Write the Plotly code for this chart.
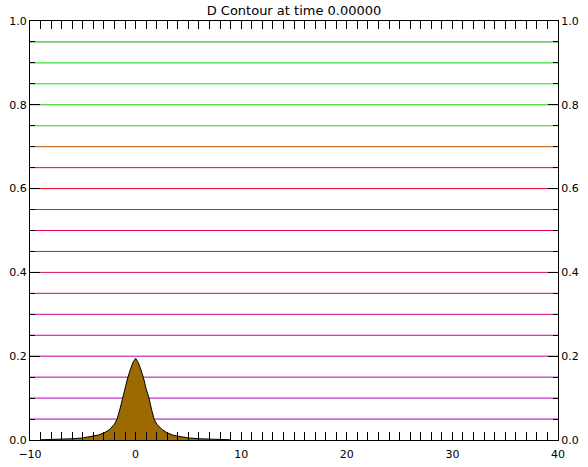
import plotly.graph_objects as go

# contour levels (horizontal lines) and their colours
levels = [0.05, 0.10, 0.15, 0.20, 0.25, 0.30, 0.35, 0.40, 0.45, 0.50,
          0.55, 0.60, 0.65, 0.70, 0.75, 0.80, 0.85, 0.90, 0.95]
level_colors = ["#aa00bb", "#bb00bb", "#bb00aa", "#bb0099", "#cc0099",
                "#cc0088", "#dd0077", "#dd1166", "#ee0055", "#ee0044",
                "#dd1133", "#ee0022", "#dd1111", "#bb5500", "#55bb22",
                "#22cc00", "#22dd22", "#00dd00", "#1a9a1a"]

# filled profile at time 0
prof_x = [-9.0, -8.0, -7.0, -6.0, -5.0, -4.0, -3.5, -3.0, -2.5, -2.0, -1.75,
          -1.5, -1.25, -1.0, -0.75, -0.5, -0.25, 0.0, 0.25, 0.5, 0.75, 1.0,
          1.25, 1.5, 1.75, 2.0, 2.5, 3.0, 3.5, 4.0, 5.0, 6.0, 7.0, 8.0, 9.0]
prof_y = [0.0005, 0.001, 0.0015, 0.003, 0.005, 0.009, 0.012, 0.017, 0.024,
          0.038, 0.050, 0.072, 0.100, 0.122, 0.148, 0.168, 0.185, 0.195,
          0.185, 0.168, 0.148, 0.122, 0.102, 0.074, 0.050, 0.038, 0.025,
          0.017, 0.012, 0.009, 0.005, 0.003, 0.002, 0.001, 0.0005]

x_range = [-10, 40]
x_ticks = [-10, 0, 10, 20, 30, 40]
y_ticks = [0.0, 0.2, 0.4, 0.6, 0.8, 1.0]
title_text = "D Contour at time 0.00000"

fig = go.Figure()
for lv, col in zip(levels, level_colors):
    fig.add_trace(go.Scatter(x=x_range, y=[lv, lv], mode="lines",
                             line=dict(color=col, width=1),
                             showlegend=False, hoverinfo="skip"))

fig.add_trace(go.Scatter(x=prof_x, y=prof_y, mode="lines", fill="tozeroy",
                         fillcolor="#9c6a00", line=dict(color="black", width=1),
                         showlegend=False))

# invisible trace on right axis
fig.add_trace(go.Scatter(x=[x_range[0]], y=[0], yaxis="y2", mode="markers",
                         marker=dict(opacity=0), showlegend=False,
                         hoverinfo="skip"))

font = dict(family="DejaVu Sans", size=11, color="black")

fig.update_layout(
    width=588, height=467,
    margin=dict(l=30, r=30, t=20.5, b=26.5),
    paper_bgcolor="white", plot_bgcolor="white",
    title=dict(text=title_text, x=0.5, xanchor="center", y=1 - 10 / 467,
               yanchor="middle", yref="container",
               font=dict(family="DejaVu Sans", size=13, color="black")),
    xaxis=dict(range=x_range, tickvals=x_ticks, ticks="inside", ticklen=8,
               tickcolor="black", showline=True, linecolor="black",
               linewidth=1, mirror="allticks", showgrid=False, zeroline=False,
               tickfont=font, ticklabelstandoff=4, automargin=False,
               minor=dict(dtick=1, ticks="inside", ticklen=4,
                          tickcolor="black", showgrid=False)),
    yaxis=dict(range=[0, 1], tickvals=y_ticks, tickformat=".1f",
               ticks="inside", ticklen=10, tickcolor="black", showline=True,
               linecolor="black", linewidth=1, showgrid=False, zeroline=False,
               tickfont=font, automargin=False,
               minor=dict(dtick=0.05, ticks="inside", ticklen=5,
                          tickcolor="black", showgrid=False)),
    yaxis2=dict(range=[0, 1], tickvals=y_ticks, tickformat=".1f",
                overlaying="y", side="right", ticks="inside", ticklen=10,
                tickcolor="black", showline=True, linecolor="black",
                linewidth=1, showgrid=False, zeroline=False, tickfont=font,
                automargin=False,
                minor=dict(dtick=0.05, ticks="inside", ticklen=5,
                           tickcolor="black", showgrid=False)),
)

fig.write_html("out.html", config={"displayModeBar": False},
               post_script="document.body.style.margin='0';")
